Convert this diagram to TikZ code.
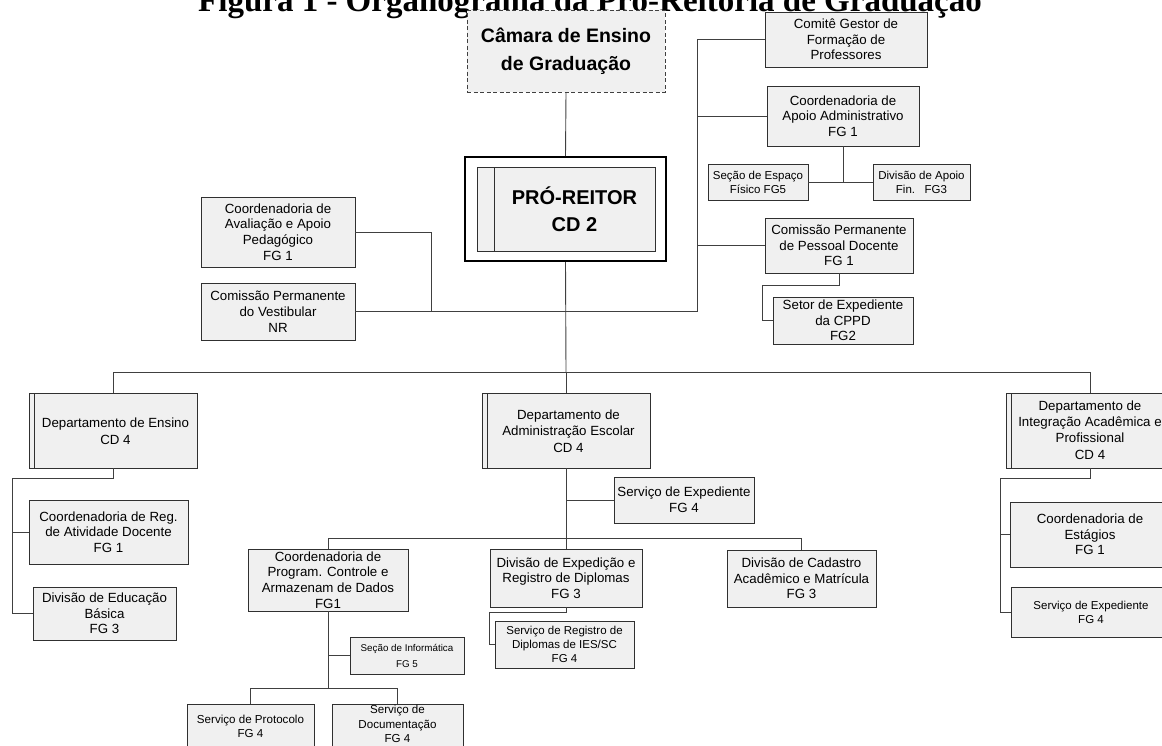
\documentclass[tikz,border=0pt]{standalone}
\usepackage{fontspec}
\setmainfont{Liberation Sans}
\newfontfamily\titlefont{Liberation Serif}
\definecolor{boxfill}{HTML}{F0F0F0}
\definecolor{edge}{HTML}{303030}
\definecolor{wire}{HTML}{404040}
\begin{document}
\begin{tikzpicture}[x=1pt,y=-1pt,
  box/.style={draw=edge, fill=boxfill, line width=0.8pt, align=center, inner sep=0pt,
    font=\fontsize{13.3}{15.7}\selectfont},
  smallbox/.style={box, font=\fontsize{11.5}{14}\selectfont},
  tinybox/.style={box, font=\fontsize{9.8}{16}\selectfont},
  sz/.style 2 args={minimum width=#1, minimum height=#2},
  stripe/.style={draw=edge, line width=0.8pt},
  ln/.style={draw=wire, line width=0.9pt},
  bigtxt/.style={align=center, inner sep=0pt, font=\bfseries\fontsize{19.5}{28}\selectfont},
  plain/.style={align=center, inner sep=0pt}]
\useasboundingbox (0,0) rectangle (1162,745);
\clip (0,0) rectangle (1162,745);

% heading, partly above the page edge
\node[anchor=base east, inner sep=0pt, font=\titlefont\bfseries\fontsize{33}{33}\selectfont]
  (title) at (982,11) {Figura 1 - Organograma da Pró-Reitoria de Graduação};

% upper management
\node[box, sz={198}{82}, draw=wire, dash pattern=on 4pt off 2.5pt, bigtxt] (cam) at (566,51)
  {Câmara de Ensino\\de Graduação};
\node[draw=black, fill=white, line width=2pt, sz={201}{104}, inner sep=0pt] (pro) at (565.5,209) {};
\node[box, sz={178}{84}] (proin) at (566,209) {};
\draw[stripe] (494,167) -- (494,251);
\node[bigtxt, font=\bfseries\fontsize{20}{27}\selectfont] (protxt) at (574.5,209) {PRÓ-REITOR\\CD 2};

% left side units
\node[box, sz={154}{70}] (cav) at (278,232) {Coordenadoria de\\Avaliação e Apoio\\Pedagógico\\FG 1};
\node[box, sz={154}{57}] (ves) at (278,311.5) {Comissão Permanente\\do Vestibular\\NR};

% right side units
\node[box, sz={162}{55}] (com) at (846,39.5) {Comitê Gestor de\\Formação de\\Professores};
\node[box, sz={152}{60}] (caa) at (843,116) {Coordenadoria de\\Apoio Administrativo\\FG 1};
\node[smallbox, sz={100}{36}] (sef) at (758,182) {Seção de Espaço\\Físico FG5};
\node[smallbox, sz={97}{36}] (dap) at (921.5,182) {Divisão de Apoio\\Fin.\ \ \ FG3};
\node[box, sz={148}{55}] (cpd) at (839,245.5) {Comissão Permanente\\de Pessoal Docente\\FG 1};
\node[box, sz={140}{47}] (sec) at (843,320.5) {Setor de Expediente\\da CPPD\\FG2};

% departments
\node[box, sz={168}{75}] (den) at (113,430.5) {};
\draw[stripe] (34,393) -- (34,468);
\node[plain, font=\fontsize{13.3}{16.5}\selectfont] (dentxt) at (115.5,431) {Departamento de Ensino\\CD 4};

\node[box, sz={168}{75}] (dad) at (566,430.5) {};
\draw[stripe] (487,393) -- (487,468);
\node[plain, font=\fontsize{13.3}{16.5}\selectfont] (dadtxt) at (568.5,431) {Departamento de\\Administração Escolar\\CD 4};

\node[box, sz={168}{75}] (dip) at (1090,430.5) {};
\draw[stripe] (1011,393) -- (1011,468);
\node[plain, font=\fontsize{13.3}{16.3}\selectfont] (diptxt) at (1090,430) {Departamento de\\Integração Acadêmica e\\Profissional\\CD 4};

% teaching department units
\node[box, sz={159}{64}] (crd) at (108.5,532) {Coordenadoria de Reg.\\de Atividade Docente\\FG 1};
\node[box, sz={143}{53}] (ded) at (104.5,613.5) {Divisão de Educação\\Básica\\FG 3};

% school administration units
\node[box, sz={140}{46}] (sex) at (684,500) {Serviço de Expediente\\FG 4};
\node[box, sz={160}{62}] (cpg) at (328,580) {Coordenadoria de\\Program. Controle e\\Armazenam de Dados\\FG1};
\node[box, sz={152}{58}] (dex) at (566,578) {Divisão de Expedição e\\Registro de Diplomas\\FG 3};
\node[box, sz={149}{57}] (dca) at (801.5,578.5) {Divisão de Cadastro\\Acadêmico e Matrícula\\FG 3};
\node[smallbox, sz={139}{47}] (srd) at (564.5,644.5) {Serviço de Registro de\\Diplomas de IES/SC\\FG 4};
\node[tinybox, sz={114}{37}] (sinf) at (407,655.5) {Seção de Informática\\FG 5};
\node[box, sz={127}{60}] (spr) at (250.5,734) {};
\node[plain, font=\fontsize{11.6}{14}\selectfont] (sprtxt) at (250.5,726) {Serviço de Protocolo\\FG 4};
\node[box, sz={131}{60}] (sdo) at (397.5,734) {};
\node[plain, font=\fontsize{11.6}{14.5}\selectfont] (sdotxt) at (397.5,724) {Serviço de\\Documentação\\FG 4};

% academic integration units
\node[box, sz={160}{65}] (coe) at (1090,534.5) {Coordenadoria de\\Estágios\\FG 1};
\node[smallbox, sz={160}{50}] (sxr) at (1091,612) {Serviço de Expediente\\FG 4};

% junction points
\coordinate (hub) at (566,372);
\coordinate (busL) at (113,372);
\coordinate (busR) at (1090,372);
\coordinate (spine) at (697,39.5);
\coordinate (spineEnd) at (697,311.5);
\coordinate (lknee) at (431,232);
\coordinate (lowbus) at (566,538);
\coordinate (ensL) at (12,478);
\coordinate (intL) at (1000,478);
\coordinate (cpdA) at (839,285);
\coordinate (cpdB) at (762,285);
\coordinate (dexA) at (566,612);
\coordinate (dexB) at (489,612);
\coordinate (cpgBus) at (328,688);

% connectors of the upper part
\draw[ln] (cam.south) -- (pro.north);
\draw[ln] (pro.south) -- (hub);
\draw[ln] (cav.east) -- (lknee) -- (lknee |- ves.east);
\draw[ln] (ves.east) -- (spineEnd);
\draw[ln] (spine) -- (spineEnd);
\draw[ln] (com.west) -- (spine);
\draw[ln] (caa.west) -- (caa.west -| spine);
\draw[ln] (cpd.west) -- (cpd.west -| spine);
\draw[ln] (caa.south) -- (caa.south |- sef.east);
\draw[ln] (sef.east) -- (dap.west);
\draw[ln] (cpd.south -| cpdA) -- (cpdA) -- (cpdB) -- (cpdB |- sec.west) -- (sec.west);

% department bus
\draw[ln] (busL) -- (busR);
\draw[ln] (busL) -- (den.north);
\draw[ln] (hub) -- (dad.north);
\draw[ln] (busR) -- (dip.north);

% teaching department
\draw[ln] (den.south) -- (den.south |- ensL) -- (ensL) -- (ensL |- ded.west) -- (ded.west);
\draw[ln] (ensL |- crd.west) -- (crd.west);

% school administration
\draw[ln] (dad.south) -- (lowbus);
\draw[ln] (sex.west -| lowbus) -- (sex.west);
\draw[ln] (cpg.north |- lowbus) -- (dca.north |- lowbus);
\draw[ln] (cpg.north |- lowbus) -- (cpg.north);
\draw[ln] (lowbus) -- (dex.north);
\draw[ln] (dca.north |- lowbus) -- (dca.north);
\draw[ln] (dex.south) -- (dexA) -- (dexB) -- (dexB |- srd.west) -- (srd.west);
\draw[ln] (cpg.south) -- (cpgBus);
\draw[ln] (cpg.south |- sinf.west) -- (sinf.west);
\draw[ln] (spr.north |- cpgBus) -- (sdo.north |- cpgBus);
\draw[ln] (spr.north |- cpgBus) -- (spr.north);
\draw[ln] (sdo.north |- cpgBus) -- (sdo.north);

% academic integration
\draw[ln] (dip.south) -- (dip.south |- intL) -- (intL) -- (intL |- sxr.west) -- (sxr.west);
\draw[ln] (intL |- coe.west) -- (coe.west);
\end{tikzpicture}
\end{document}
